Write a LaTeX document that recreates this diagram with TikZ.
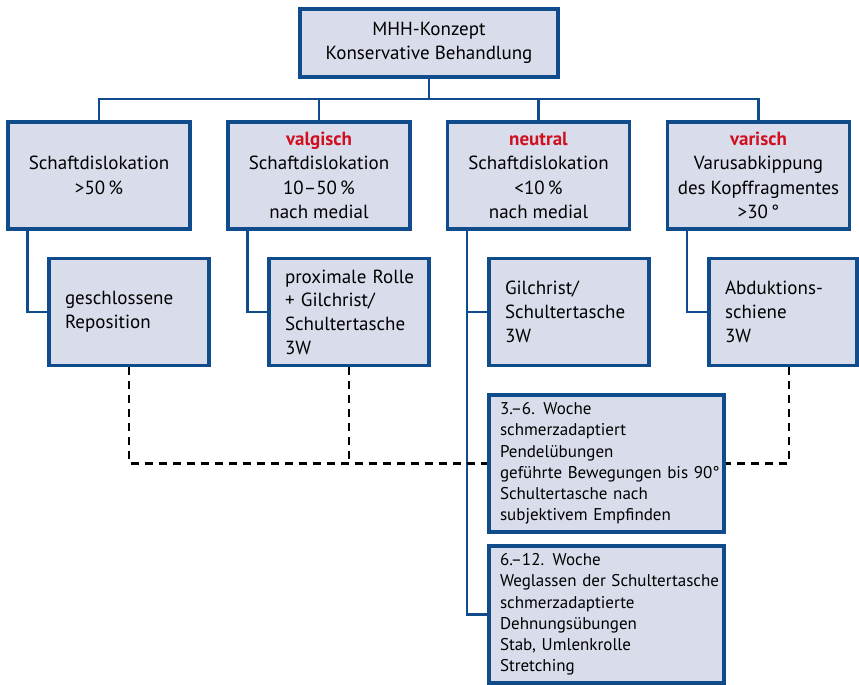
\documentclass[tikz,border=0pt]{standalone}
\usepackage{fontspec}
\setmainfont{PT Sans}
\definecolor{boxblue}{RGB}{16,76,140}
\definecolor{boxfill}{RGB}{217,221,235}
\definecolor{headred}{RGB}{208,16,32}
\newcommand{\casehead}[1]{\textbf{\color{headred}#1}}
\begin{document}
\begin{tikzpicture}[x=1pt, y=-1pt,
    box/.style={draw=boxblue, fill=boxfill, line width=3.1pt, inner sep=0pt},
    topbox/.style={box, minimum width=258pt, minimum height=68pt, align=center, font=\fontsize{19}{24}\selectfont},
    casebox/.style={box, minimum width=182pt, minimum height=107pt, align=center, font=\fontsize{19}{24.5}\selectfont},
    therapybox/.style={box, minimum height=107pt, inner xsep=4pt, text width=152pt, align=left,
      execute at begin node={\leftskip=12pt\relax}, font=\fontsize{19}{23.7}\selectfont},
    phasebox/.style={box, minimum height=137pt, inner xsep=4pt, text width=227pt, align=left,
      execute at begin node={\leftskip=7pt\relax}, font=\fontsize{17}{21.2}\selectfont},
    link/.style={draw=boxblue, line width=2.9pt},
    dashlink/.style={draw=black, line width=2.8pt, dash pattern=on 8pt off 6pt}]
      \useasboundingbox (0,0) rectangle (859,685);
      % Kopf
      \node at (429,43)[topbox] (b0){MHH-Konzept\\Konservative Behandlung};
      % Einteilung
      \node at (99,175.5)[casebox] (b1){Schaftdislokation\\>50\,\%};
      \node at (319,175.5)[casebox] (b2){\casehead{valgisch}\\Schaftdislokation\\10--50\,\%\\nach medial};
      \node at (538.5,175.5)[casebox] (b3){\casehead{neutral}\\Schaftdislokation\\<10\,\%\\nach medial};
      \node at (758.5,175.5)[casebox] (b4){\casehead{varisch}\\Varusabkippung\\des Kopffragmentes\\>30\,°};
      % Therapie
      \node at (129,312)[therapybox] (r1){geschlossene\\Reposition};
      \node at (349,312)[therapybox] (r2){proximale Rolle\\+ Gilchrist/\\Schultertasche\\3W};
      \node at (569,312)[therapybox] (r3){Gilchrist/\\Schultertasche\\3W};
      \node at (783,312)[therapybox, text width=140pt] (r4){Abduktions-\\schiene\\3W};
      % Nachbehandlung
      \node at (606.5,463.5)[phasebox] (r5){3.--6. Woche\\schmerzadaptiert\\Pendelübungen\\geführte Bewegungen bis 90°\\Schultertasche nach\\subjektivem Empfinden};
      \node at (606.5,614.5)[phasebox] (r6){6.--12. Woche\\Weglassen der Schultertasche\\schmerzadaptierte\\Dehnungsübungen\\Stab, Umlenkrolle\\Stretching};
      \coordinate (bus) at (429,99);
      \draw[link] (b0.south) -- (bus);
      \foreach \n in {b1,b2,b3,b4} \draw[link] (\n.north) |- (bus);
      \foreach \a/\b in {b1/r1,b2/r2,b3/r3,b3/r6,b4/r4} \draw[link] ([xshift=21pt]\a.south west) |- (\b.west);
      \draw[dashlink] (r1.south) |- (r5.west);
      \draw[dashlink] (r2.south) -- (r2.south |- r5.west);
      \draw[dashlink] ([xshift=6pt]r4.south) |- (r5.east);
\end{tikzpicture}
\end{document}
